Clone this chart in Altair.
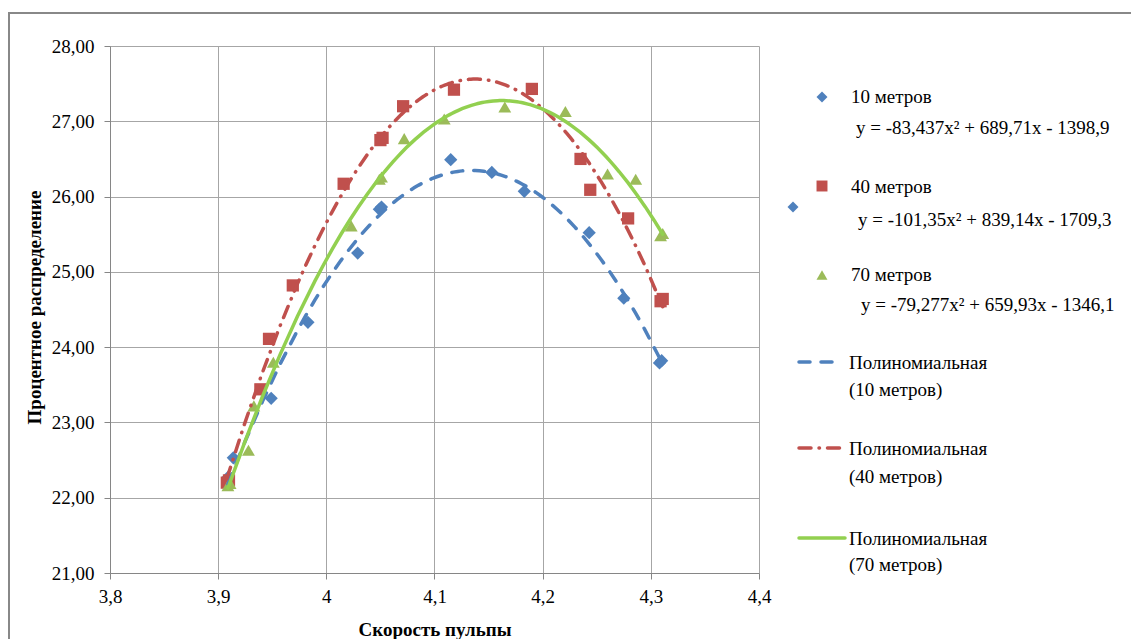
import altair as alt
import pandas as pd

# ---- data ----
x10 = [3.909, 3.914, 3.949, 3.983, 4.029, 4.049, 4.051, 4.115, 4.153, 4.183, 4.243, 4.275, 4.308, 4.310]
y10 = [22.27, 22.53, 23.32, 24.33, 25.25, 25.83, 25.86, 26.49, 26.32, 26.07, 25.52, 24.65, 23.79, 23.82]

x40 = [3.908, 3.910, 3.939, 3.947, 3.969, 4.016, 4.050, 4.052, 4.071, 4.118, 4.190, 4.235, 4.244, 4.279, 4.309, 4.311]
y40 = [22.20, 22.23, 23.44, 24.11, 24.82, 26.17, 26.75, 26.78, 27.20, 27.42, 27.43, 26.50, 26.09, 25.71, 24.61, 24.64]

x70 = [3.909, 3.911, 3.928, 3.933, 3.951, 4.023, 4.049, 4.051, 4.072, 4.109, 4.165, 4.221, 4.260, 4.286, 4.309, 4.311]
y70 = [22.16, 22.19, 22.63, 23.22, 23.80, 25.61, 26.23, 26.26, 26.77, 27.03, 27.19, 27.13, 26.30, 26.23, 25.48, 25.51]

series_names = ["10 метров", "40 метров", "70 метров"]
equations = [
    "y = -83,437x² + 689,71x - 1398,9",
    "y = -101,35x² + 839,14x - 1709,3",
    "y = -79,277x² + 659,93x - 1346,1",
]
trend_label = "Полиномиальная"
x_ticks = [3.8, 3.9, 4.0, 4.1, 4.2, 4.3, 4.4]
y_ticks = [21, 22, 23, 24, 25, 26, 27, 28]
x_title = "Скорость пульпы"
y_title = "Процентное распределение"

# ---- styling ----
FONT = "Liberation Serif, Times New Roman, DejaVu Serif, serif"
BLUE = "#4F81BD"
RED = "#C0504D"
GREEN_M = "#9BBB59"
GREEN_L = "#92D050"
GRID = "#a6a6a6"
AXIS = "#868686"
FS = 19

df10 = pd.DataFrame({"x": x10, "y": y10})
df40 = pd.DataFrame({"x": x40, "y": y40})
df70 = pd.DataFrame({"x": x70, "y": y70})
one = pd.DataFrame({"k": [0]})

X = alt.X(
    "x:Q",
    scale=alt.Scale(domain=[3.8, 4.4], nice=False, zero=False),
    axis=alt.Axis(
        values=x_ticks, grid=True, gridColor=GRID, domainColor=AXIS, tickColor=AXIS,
        tickSize=6, labelPadding=8, labelFont=FONT, labelFontSize=FS, labelColor="black",
        labelFlush=False, labelOverlap=False, labelBound=False,
        labelExpr="replace(toString(round(datum.value*10)/10), '.', ',')",
        title=x_title, titleFont=FONT, titleFontSize=FS, titleFontWeight="bold",
        titleColor="black", titleY=47, titleBaseline="top",
    ),
)
Y = alt.Y(
    "y:Q",
    scale=alt.Scale(domain=[21, 28], nice=False, zero=False),
    axis=alt.Axis(
        values=y_ticks, grid=True, gridColor=GRID, domainColor=AXIS, tickColor=AXIS,
        tickSize=6, labelPadding=10, labelFont=FONT, labelFontSize=FS, labelColor="black",
        labelFlush=False, labelOverlap=False, labelBound=False,
        labelExpr="replace(format(datum.value, '.2f'), '.', ',')",
        title=y_title, titleFont=FONT, titleFontSize=FS, titleFontWeight="bold",
        titleColor="black", titleX=-76, titleY=261, titleBaseline="middle",
    ),
)


def pts(df, shape, color, size):
    return alt.Chart(df).mark_point(shape=shape, filled=True, color=color, size=size,
                                    opacity=1).encode(x=X, y=Y)


def trend(df, color, dash, width=3.5):
    kw = dict(color=color, strokeWidth=width, strokeCap="round")
    if dash:
        kw["strokeDash"] = dash
    return (alt.Chart(df)
            .transform_regression("x", "y", method="poly", order=2)
            .mark_line(**kw).encode(x=X, y=Y))


def txt(s, x, y):
    return alt.Chart(one).mark_text(text=s, align="left", baseline="middle", font=FONT,
                                    fontSize=FS, color="black").encode(
        x=alt.value(x), y=alt.value(y))


def lpt(shape, color, size, x, y):
    return alt.Chart(one).mark_point(shape=shape, filled=True, color=color, size=size,
                                     opacity=1).encode(x=alt.value(x), y=alt.value(y))


def lrule(color, dash, x1, x2, y):
    kw = dict(color=color, strokeWidth=3.5, strokeCap="round")
    if dash:
        kw["strokeDash"] = dash
    return alt.Chart(one).mark_rule(**kw).encode(x=alt.value(x1), x2=alt.value(x2), y=alt.value(y))


DASH_B = [11, 11]
DASH_R = [12, 8, 0.5, 8]

frame = alt.Chart(one).mark_rect(filled=False, stroke="#888888", strokeWidth=2).encode(
    x=alt.value(-101), x2=alt.value(1100), y=alt.value(-33), y2=alt.value(700))

layers = [
    frame,
    pts(df10, "diamond", BLUE, 175),
    pts(df40, "square", RED, 150),
    pts(df70, "triangle-up", GREEN_M, 165),
    trend(df10, BLUE, DASH_B),
    trend(df40, RED, DASH_R),
    trend(df70, GREEN_L, None),
    # legend
    lpt("diamond", BLUE, 120, 712, 51), txt(series_names[0], 741, 51), txt(equations[0], 746, 82),
    lpt("square", RED, 120, 712, 140), txt(series_names[1], 741, 141), txt(equations[1], 748, 174),
    lpt("diamond", BLUE, 120, 683, 161),
    lpt("triangle-up", GREEN_M, 120, 712, 229), txt(series_names[2], 741, 229), txt(equations[2], 751, 259),
    lrule(BLUE, DASH_B, 689, 723, 316), txt(trend_label, 739, 317), txt("(" + series_names[0] + ")", 739, 344),
    lrule(RED, DASH_R, 689, 735, 402), txt(trend_label, 739, 403), txt("(" + series_names[1] + ")", 739, 431),
    lrule(GREEN_L, None, 689, 735, 492), txt(trend_label, 739, 493), txt("(" + series_names[2] + ")", 739, 519),
]

chart = (
    alt.layer(*layers)
    .properties(
        width=649, height=527,
        autosize=alt.AutoSizeParams(type="none"),
        padding={"left": 102, "top": 38, "right": 372, "bottom": 66},
        background="white",
    )
    .configure_view(stroke="transparent")
)

chart.save("out.html", embed_options={"renderer": "svg", "actions": False})
